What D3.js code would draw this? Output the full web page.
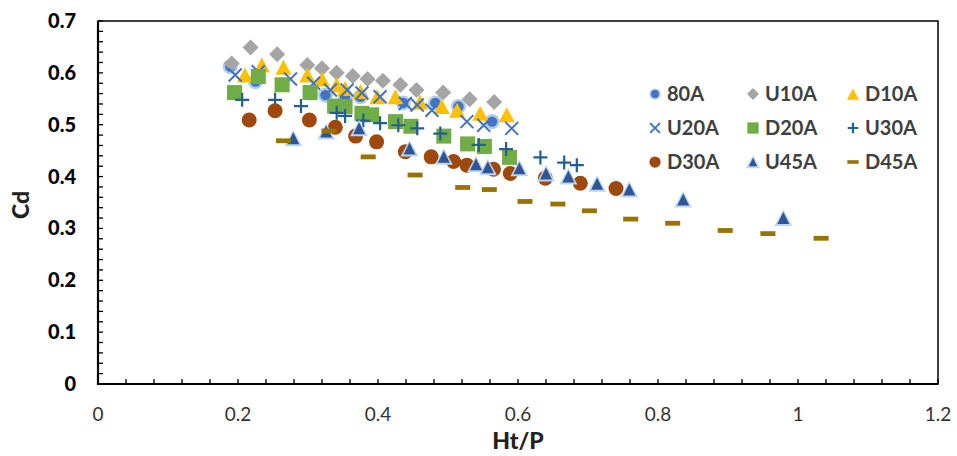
<!DOCTYPE html>
<html>
<head>
<meta charset="utf-8">
<script src="https://cdn.jsdelivr.net/npm/d3@7"></script>
<style>
  html, body { margin: 0; padding: 0; background: #fff; }
  svg { display: block; }
  text { font-family: Lato, "Open Sans", "Liberation Sans", sans-serif; }
</style>
</head>
<body>
<svg id="chart" width="957" height="456"></svg>
<script>
// Discharge coefficient Cd against relative head Ht/P for nine weir configurations
const seriesNames = ["80A", "U10A", "D10A", "U20A", "D20A", "U30A", "D30A", "U45A", "D45A"];

const s80A = [[0.189,0.612],[0.225,0.583],[0.303,0.561],[0.325,0.557],[0.353,0.554],[0.375,0.554],[0.436,0.542],[0.482,0.542],[0.515,0.535],[0.563,0.506]];
const sU10A = [[0.191,0.618],[0.218,0.649],[0.256,0.636],[0.299,0.615],[0.320,0.609],[0.341,0.600],[0.364,0.594],[0.385,0.588],[0.407,0.585],[0.432,0.577],[0.455,0.567],[0.493,0.562],[0.531,0.549],[0.566,0.544]];
const sD10A = [[0.210,0.596],[0.234,0.615],[0.265,0.611],[0.299,0.596],[0.320,0.588],[0.341,0.577],[0.353,0.570],[0.375,0.564],[0.399,0.554],[0.425,0.554],[0.460,0.544],[0.491,0.535],[0.513,0.528],[0.546,0.522],[0.584,0.519]];
const sU20A = [[0.196,0.596],[0.229,0.602],[0.275,0.588],[0.308,0.580],[0.332,0.567],[0.356,0.567],[0.377,0.561],[0.403,0.554],[0.439,0.541],[0.456,0.538],[0.477,0.528],[0.527,0.506],[0.551,0.499],[0.591,0.493]];
const sD20A = [[0.195,0.562],[0.229,0.593],[0.263,0.577],[0.303,0.562],[0.338,0.536],[0.353,0.535],[0.377,0.522],[0.391,0.519],[0.425,0.506],[0.447,0.497],[0.494,0.478],[0.528,0.463],[0.552,0.458],[0.588,0.437]];
const sU30A = [[0.206,0.548],[0.253,0.548],[0.290,0.536],[0.341,0.523],[0.353,0.517],[0.379,0.508],[0.403,0.503],[0.429,0.499],[0.456,0.493],[0.489,0.483],[0.544,0.461],[0.583,0.453],[0.632,0.437],[0.666,0.427],[0.684,0.422]];
const sD30A = [[0.216,0.509],[0.253,0.527],[0.302,0.509],[0.339,0.495],[0.368,0.478],[0.398,0.467],[0.439,0.448],[0.476,0.438],[0.508,0.429],[0.527,0.422],[0.565,0.414],[0.589,0.406],[0.639,0.397],[0.689,0.387],[0.740,0.377]];
const sU45A = [[0.279,0.474],[0.326,0.487],[0.373,0.493],[0.445,0.454],[0.494,0.438],[0.540,0.424],[0.557,0.418],[0.602,0.416],[0.640,0.406],[0.672,0.400],[0.713,0.386],[0.759,0.375],[0.836,0.356],[0.979,0.320]];
const sD45A = [[0.265,0.469],[0.330,0.488],[0.386,0.438],[0.453,0.403],[0.521,0.379],[0.559,0.375],[0.610,0.352],[0.657,0.347],[0.702,0.334],[0.761,0.318],[0.821,0.310],[0.896,0.296],[0.957,0.290],[1.033,0.281]];

const xTicks = [0, 0.2, 0.4, 0.6, 0.8, 1, 1.2];
const yTicks = [0, 0.1, 0.2, 0.3, 0.4, 0.5, 0.6, 0.7];

const seriesData = [s80A, sU10A, sD10A, sU20A, sD20A, sU30A, sD30A, sU45A, sD45A];

const svg = d3.select("#chart");
const x = d3.scaleLinear().domain([0, 1.2]).range([98, 938]);
const y = d3.scaleLinear().domain([0, 0.7]).range([384, 21]);

// Marker painters: each draws one symbol centred on (0,0) inside a group
const painters = {
  "80A": (g, k) => {
    g.append("circle").attr("r", 7.5 * k).attr("fill", "#9dc3e6").attr("opacity", 0.85);
    g.append("circle").attr("r", 5.2 * k).attr("fill", "#4472c4");
  },
  "U10A": (g, k) => {
    const s = 8 * k;
    g.append("path").attr("d", `M0,${-s}L${s},0L0,${s}L${-s},0Z`).attr("fill", "#a5a5a5");
  },
  "D10A": (g, k) => {
    const w = 8 * k, h = 7.5 * k;
    g.append("path").attr("d", `M0,${-h}L${w},${h}L${-w},${h}Z`).attr("fill", "#ffc000");
  },
  "U20A": (g, k) => {
    const s = 6.5 * k;
    g.append("path").attr("d", `M${-s},${-s}L${s},${s}M${-s},${s}L${s},${-s}`)
      .attr("stroke", "#4472c4").attr("stroke-width", 2).attr("fill", "none");
  },
  "D20A": (g, k) => {
    const s = 7.5 * k;
    g.append("rect").attr("x", -s).attr("y", -s).attr("width", 2 * s).attr("height", 2 * s).attr("fill", "#70ad47");
  },
  "U30A": (g, k) => {
    const s = 7 * k;
    g.append("path").attr("d", `M${-s},0L${s},0M0,${-s}L0,${s}`)
      .attr("stroke", "#255e91").attr("stroke-width", 2.2).attr("fill", "none");
  },
  "D30A": (g, k) => {
    g.append("circle").attr("r", 7.5 * k).attr("fill", "#9e480e");
  },
  "U45A": (g, k) => {
    const w = 7.5 * k, h = 7 * k;
    g.append("path").attr("d", `M0,${-h - 1.5}L${w + 1.5},${h + 1}L${-w - 1.5},${h + 1}Z`).attr("fill", "#bdd7ee");
    g.append("path").attr("d", `M0,${-h + 1}L${w - 1.5},${h - 1}L${-w + 1.5},${h - 1}Z`).attr("fill", "#2f5597");
  },
  "D45A": (g, k) => {
    const w = 7.5 * k, h = 2.4 * k;
    g.append("rect").attr("x", -w).attr("y", -h).attr("width", 2 * w).attr("height", 2 * h).attr("fill", "#997300");
  }
};

// Axes with inward ticks
const axisG = svg.append("g");

// Minor ticks
const xMinor = d3.range(0, 1.2001, 0.04);
const yMinor = d3.range(0, 0.7001, 0.02);
axisG.selectAll(".xminor").data(xMinor).join("line")
  .attr("x1", d => x(d)).attr("x2", d => x(d))
  .attr("y1", y(0)).attr("y2", y(0) - 5)
  .attr("stroke", "#000").attr("stroke-width", 1.3);
axisG.selectAll(".yminor").data(yMinor).join("line")
  .attr("x1", x(0)).attr("x2", x(0) + 5)
  .attr("y1", d => y(d)).attr("y2", d => y(d))
  .attr("stroke", "#000").attr("stroke-width", 1.3);

// Plot frame
axisG.append("rect")
  .attr("x", x(0)).attr("y", y(0.7))
  .attr("width", x(1.2) - x(0)).attr("height", y(0) - y(0.7))
  .attr("fill", "none").attr("stroke", "#000").attr("stroke-width", 1.5);
axisG.append("line").attr("x1", x(0)).attr("x2", x(0)).attr("y1", y(0.7)).attr("y2", y(0) + 1)
  .attr("stroke", "#000").attr("stroke-width", 2.2);
axisG.append("line").attr("x1", x(0) - 1).attr("x2", x(1.2)).attr("y1", y(0)).attr("y2", y(0))
  .attr("stroke", "#000").attr("stroke-width", 2.2);

// Tick labels
const xFmt = d => d === 0 ? "0" : d3.format("")(+d.toFixed(1));
svg.append("g").selectAll("text").data(xTicks).join("text")
  .attr("x", d => x(d)).attr("y", 421)
  .attr("text-anchor", "middle")
  .attr("font-size", 19).attr("fill", "#333")
  .text(xFmt);
svg.append("g").selectAll("text").data(yTicks).join("text")
  .attr("x", 76).attr("y", d => y(d) + 7)
  .attr("text-anchor", "end")
  .attr("font-size", 20).attr("font-weight", 900).attr("fill", "#000")
  .text(d => d === 0 ? "0" : d.toFixed(1));

// Axis titles
svg.append("text").attr("x", 518).attr("y", 449).attr("text-anchor", "middle")
  .attr("font-size", 23).attr("font-weight", 900).attr("fill", "#222").text("Ht/P");
svg.append("text").attr("transform", "translate(29,205) rotate(-90)").attr("text-anchor", "middle")
  .attr("font-size", 23).attr("font-weight", 900).attr("fill", "#222").text("Cd");

// Data points, drawn in series order so later series sit on top
const plotG = svg.append("g");
seriesNames.forEach((name, i) => {
  const sg = plotG.append("g").attr("class", "series-" + name);
  seriesData[i].forEach(([vx, vy]) => {
    const g = sg.append("g").attr("transform", `translate(${x(vx)},${y(vy)})`);
    painters[name](g, 1);
  });
});

// Legend: three columns by three rows
const legCols = [655, 753, 853];
const legRows = [94, 128, 162];
const legG = svg.append("g");
seriesNames.forEach((name, i) => {
  const cx = legCols[i % 3], cy = legRows[Math.floor(i / 3)];
  const g = legG.append("g").attr("transform", `translate(${cx},${cy})`);
  painters[name](g, 0.75);
  legG.append("text").attr("x", cx + 12).attr("y", cy + 7)
    .attr("font-size", 20).attr("font-weight", 700).attr("fill", "#404040").text(name);
});
</script>
</body>
</html>
